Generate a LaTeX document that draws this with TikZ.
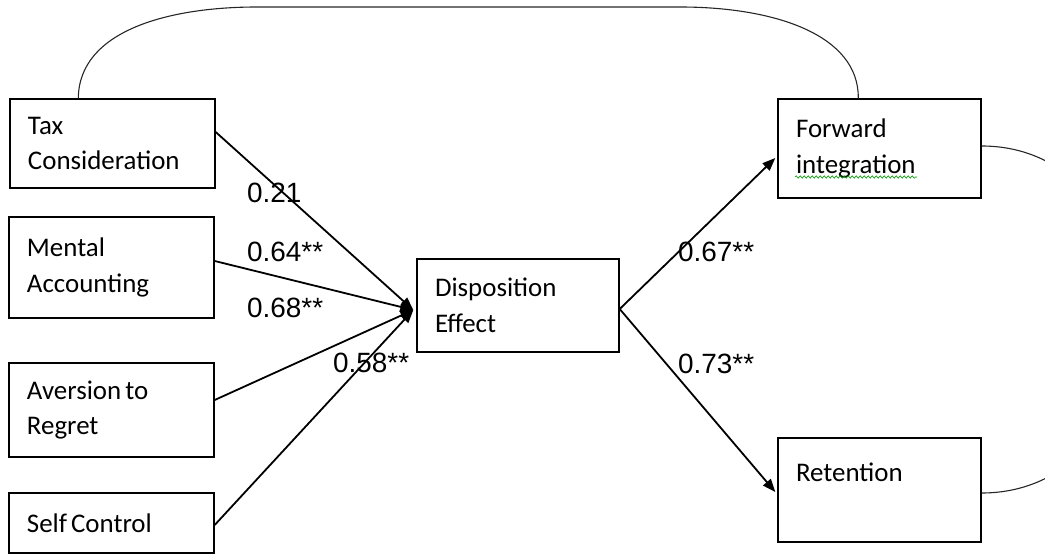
\documentclass[tikz,border=0pt]{standalone}
\usepackage{fontspec}
\setmainfont{Carlito}
\newfontfamily\numfont{Liberation Sans}
\usetikzlibrary{arrows.meta,calc,decorations.pathmorphing}
\tikzset{
  box/.style={draw, line width=1.4bp, rectangle, inner xsep=18bp, inner ysep=0pt,
    align=left, font=\fontsize{27}{36}\selectfont},
  conn/.style={line width=1.8bp, -{Triangle[length=13bp,width=10bp]}},
  loopline/.style={line width=1.1bp, draw=black!85},
  coef/.style={anchor=west, inner sep=0pt, font=\numfont\fontsize{28}{30}\selectfont}
}
\begin{document}
\begin{tikzpicture}[x=1bp,y=-1bp]
\useasboundingbox (0,0) rectangle (1045,556);
% boxes
\node[box, text width=169bp, minimum height=89bp] (tax) at (112.5,143.5) {Tax\\Consideration};
\node[box, text width=169bp, minimum height=101bp] (ment) at (111.5,267.5) {Mental\\Accounting};
\node[box, text width=169bp, minimum height=94bp] (aver) at (111.5,410) {Aversion\kern4bp to\\Regret};
\node[box, text width=169bp, minimum height=60bp] (self) at (111.5,523) {Self\kern4bp Control};
\node[box, text width=166bp, minimum height=93bp] (disp) at (518,305.5) {Disposition\\Effect};
\node[box, text width=167bp, minimum height=99bp] (fwd) at (879.5,148.5) {Forward\\integration};
\node[box, text width=167bp, minimum height=104bp] (ret) at (879.5,490) {Retention\\\mbox{}};
% coordinates
\coordinate (din) at ($(disp.west)+(-3,4.5)$);
\coordinate (dout) at ($(disp.east)+(0,3.5)$);
% arrows into disposition
\draw[conn] ($(tax.east)+(0,-11.5)$) -- (din);
\draw[conn] ($(ment.east)+(0,-6.5)$) -- (din);
\draw[conn] ($(aver.east)+(0,-10)$) -- (din);
\draw[conn] ($(self.east)+(0,2)$) -- (din);
% arrows out
\draw[conn] (dout) -- ($(fwd.west)+(-2,9.5)$);
\draw[conn] (dout) -- ($(ret.west)+(-2,2)$);
% curved links
\draw[loopline] ($(tax.north west)+(69,0)$) .. controls (79,30) and (170,7) .. (257,7)
  -- (680,7) .. controls (775,7) and (859,35) .. ($(fwd.north west)+(81,0)$);
\begin{scope}
\clip (0,0) rectangle (1045,556);
\draw[loopline] ($(fwd.east)+(0,-2.5)$) .. controls (1070,146) and (1130,220) .. (1130,320)
  .. controls (1130,420) and (1070,493) .. ($(ret.east)+(0,3)$);
\end{scope}
% spell-check squiggle
\draw[green!60!black, line width=0.6bp, decorate,
  decoration={snake, amplitude=1.2bp, segment length=4bp}] (795,177) -- (917,177);
% coefficients
\node[coef] (c1) at (247,193) {0.21};
\node[coef] (c2) at (247,252) {0.64**};
\node[coef] (c3) at (247,308) {0.68**};
\node[coef] (c4) at (333,363) {0.58**};
\node[coef] (c5) at (678,252) {0.67**};
\node[coef] (c6) at (678,364) {0.73**};
\end{tikzpicture}
\end{document}
